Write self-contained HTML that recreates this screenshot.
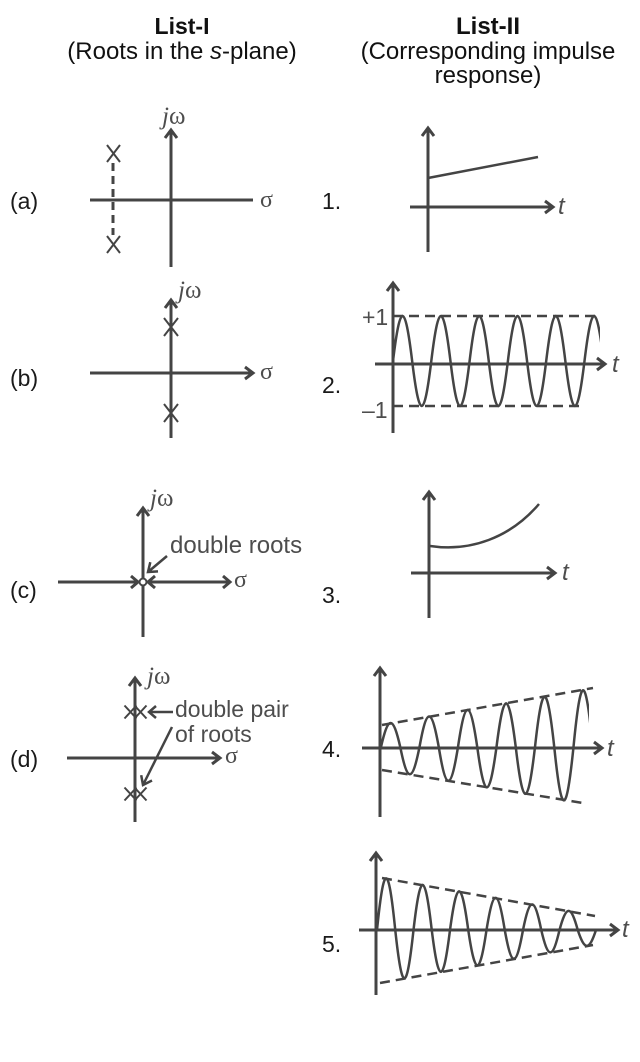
<!DOCTYPE html>
<html>
<head>
<meta charset="utf-8">
<style>
  html, body { margin: 0; padding: 0; background: #ffffff; }
  svg { display: block; }
  text { font-family: "Liberation Sans", Arial, sans-serif; }
  .ax { stroke: #444; stroke-width: 3; fill: none; stroke-linejoin: miter; }
  .ln { stroke: #444; stroke-width: 2.5; fill: none; }
  .xm { stroke: #444; stroke-width: 2; fill: none; }
  .dash { stroke: #444; stroke-width: 2.5; fill: none; stroke-dasharray: 10 6; }
  .lab { font-size: 23px; fill: #1a1a1a; }
  .gr { fill: #4d4d4d; }
  .ser { font-family: "Liberation Serif", "DejaVu Serif", serif; fill: #4d4d4d; }
</style>
</head>
<body>
<svg width="640" height="1062" viewBox="0 0 640 1062" xmlns="http://www.w3.org/2000/svg">
  <defs>
    <clipPath id="c2"><rect x="370" y="280" width="230" height="160"/></clipPath>
    <clipPath id="c4"><rect x="370" y="660" width="219" height="170"/></clipPath>
    <clipPath id="c5"><rect x="370" y="840" width="240" height="160"/></clipPath>
  </defs>

  <!-- Titles -->
  <text x="182" y="34" text-anchor="middle" font-weight="bold" font-size="23" fill="#111">List-I</text>
  <text x="182" y="59" text-anchor="middle" font-size="24" fill="#111">(Roots in the <tspan font-style="italic">s</tspan>-plane)</text>
  <text x="488" y="34" text-anchor="middle" font-weight="bold" font-size="24" fill="#111">List-II</text>
  <text x="488" y="59" text-anchor="middle" font-size="24" fill="#111">(Corresponding impulse</text>
  <text x="488" y="83" text-anchor="middle" font-size="24" fill="#111">response)</text>

  <!-- Row labels -->
  <text class="lab" x="10" y="209">(a)</text>
  <text class="lab" x="10" y="386">(b)</text>
  <text class="lab" x="10" y="598">(c)</text>
  <text class="lab" x="10" y="767">(d)</text>
  <text class="lab" x="322" y="209">1.</text>
  <text class="lab" x="322" y="393">2.</text>
  <text class="lab" x="322" y="603">3.</text>
  <text class="lab" x="322" y="757">4.</text>
  <text class="lab" x="322" y="952">5.</text>

  <!-- (a) -->
  <path class="ax" d="M90,200 H253"/>
  <path class="ax" d="M171,267 V130"/>
  <path class="ax" d="M165,138 L171,130 L177,138"/>
  <path class="ax" d="M113,163 V235" style="stroke-dasharray:8 5"/>
  <path class="xm" d="M107,145 L120,162 M120,145 L107,162"/>
  <path class="xm" d="M107,236 L120,253 M120,236 L107,253"/>
  <text class="ser" x="162" y="124" font-size="25"><tspan font-style="italic">j</tspan>ω</text>
  <text class="ser" x="260" y="207" font-size="24">σ</text>

  <!-- (b) -->
  <path class="ax" d="M90,373 H253"/>
  <path class="ax" d="M245,367 L253,373 L245,379"/>
  <path class="ax" d="M171,438 V300"/>
  <path class="ax" d="M165,308 L171,300 L177,308"/>
  <path class="xm" d="M164,318 L178,336 M178,318 L164,336"/>
  <path class="xm" d="M164,404 L178,422 M178,404 L164,422"/>
  <text class="ser" x="178" y="298" font-size="25"><tspan font-style="italic">j</tspan>ω</text>
  <text class="ser" x="260" y="379" font-size="24">σ</text>

  <!-- (c) -->
  <path class="ax" d="M143,637 V508"/>
  <path class="ax" d="M137,516 L143,508 L149,516"/>
  <path class="ax" d="M58,582 H138"/>
  <path class="ax" d="M131,576 L138,582 L131,588"/>
  <path class="ax" d="M148,582 H230"/>
  <path class="ax" d="M155,576 L148,582 L155,588"/>
  <path class="ax" d="M223,576 L230,582 L223,588"/>
  <circle cx="143" cy="582" r="3.5" fill="#fff" stroke="#444" stroke-width="2"/>
  <path class="ln" d="M167,556 L148,572"/>
  <path class="ln" d="M158,571.4 L148,572 L150.3,562.2"/>
  <text class="gr" x="170" y="553" font-size="24">double roots</text>
  <text class="ser" x="150" y="506" font-size="25"><tspan font-style="italic">j</tspan>ω</text>
  <text class="ser" x="234" y="587" font-size="24">σ</text>

  <!-- (d) -->
  <path class="ax" d="M67,758 H220"/>
  <path class="ax" d="M212,752 L220,758 L212,764"/>
  <path class="ax" d="M135,822 V678"/>
  <path class="ax" d="M129,686 L135,678 L141,686"/>
  <path class="xm" d="M124.5,705.5 L136.5,718.5 M136.5,705.5 L124.5,718.5"/>
  <path class="xm" d="M134.5,705.5 L146.5,718.5 M146.5,705.5 L134.5,718.5"/>
  <path class="xm" d="M124.5,787.5 L136.5,800.5 M136.5,787.5 L124.5,800.5"/>
  <path class="xm" d="M134.5,787.5 L146.5,800.5 M146.5,787.5 L134.5,800.5"/>
  <path class="ln" d="M173,712 H149"/>
  <path class="ln" d="M156,706 L149,712 L156,718"/>
  <path class="ln" d="M172,727 L143,785"/>
  <path class="ln" d="M152,780.5 L143,785 L141.2,775.2"/>
  <text class="gr" x="175" y="717" font-size="23">double pair</text>
  <text class="gr" x="175" y="742" font-size="23">of roots</text>
  <text class="ser" x="147" y="684" font-size="25"><tspan font-style="italic">j</tspan>ω</text>
  <text class="ser" x="225" y="763" font-size="24">σ</text>

  <!-- Plot 1 -->
  <path class="ax" d="M428,252 V128"/>
  <path class="ax" d="M422,136 L428,128 L434,136"/>
  <path class="ax" d="M410,207 H553"/>
  <path class="ax" d="M545,201 L553,207 L545,213"/>
  <path class="ln" d="M428,178 L538,157"/>
  <text class="gr" x="558" y="214" font-size="24" font-style="italic">t</text>

  <!-- Plot 2 -->
  <path class="ax" d="M393,433 V283"/>
  <path class="ax" d="M387,291 L393,283 L399,291"/>
  <path class="ax" d="M375,364 H605"/>
  <path class="ax" d="M597,358 L605,364 L597,370"/>
  <path class="dash" d="M393,316 H597"/>
  <path class="dash" d="M393,406 H580"/>
  <text class="gr" x="362" y="325" font-size="23">+1</text>
  <text class="gr" x="362" y="418" font-size="23">–1</text>
  <path class="ln" clip-path="url(#c2)" d="M393,361
    c7.28,-60 11.87,-60 19.15,0 c7.28,60 11.87,60 19.15,0
    c7.28,-60 11.87,-60 19.15,0 c7.28,60 11.87,60 19.15,0
    c7.28,-60 11.87,-60 19.15,0 c7.28,60 11.87,60 19.15,0
    c7.28,-60 11.87,-60 19.15,0 c7.28,60 11.87,60 19.15,0
    c7.28,-60 11.87,-60 19.15,0 c7.28,60 11.87,60 19.15,0
    c7.28,-60 11.87,-60 19.15,0"/>
  <text class="gr" x="612" y="372" font-size="24" font-style="italic">t</text>

  <!-- Plot 3 -->
  <path class="ax" d="M429,618 V492"/>
  <path class="ax" d="M423,500 L429,492 L435,500"/>
  <path class="ax" d="M411,573 H555"/>
  <path class="ax" d="M547,567 L555,573 L547,579"/>
  <path class="ln" d="M430,546 C470,552 510,538 539,504"/>
  <text class="gr" x="562" y="580" font-size="24" font-style="italic">t</text>

  <!-- Plot 4 -->
  <path class="ax" d="M380,817 V668"/>
  <path class="ax" d="M374,676 L380,668 L386,676"/>
  <path class="ax" d="M362,748 H602"/>
  <path class="ax" d="M594,742 L602,748 L594,754"/>
  <path class="dash" d="M382,725 L593,688"/>
  <path class="dash" d="M382,770 L583,803"/>
  <path class="ln" clip-path="url(#c4)" d="M381,747
    c7.32,-32 11.94,-32 19.25,0 c7.32,36.3 11.94,36.3 19.25,0
    c7.32,-40.7 11.94,-40.7 19.25,0 c7.32,45 11.94,45 19.25,0
    c7.32,-49.4 11.94,-49.4 19.25,0 c7.32,53.8 11.94,53.8 19.25,0
    c7.32,-58.1 11.94,-58.1 19.25,0 c7.32,62.5 11.94,62.5 19.25,0
    c7.32,-66.8 11.94,-66.8 19.25,0 c7.32,71.2 11.94,71.2 19.25,0
    c7.32,-75.6 11.94,-75.6 19.25,0"/>
  <text class="gr" x="607" y="756" font-size="24" font-style="italic">t</text>

  <!-- Plot 5 -->
  <path class="ax" d="M376,995 V853"/>
  <path class="ax" d="M370,861 L376,853 L382,861"/>
  <path class="ax" d="M359,930 H618"/>
  <path class="ax" d="M610,924 L618,930 L610,936"/>
  <path class="dash" d="M382,878 L595,916"/>
  <path class="dash" d="M380,983 L593,945"/>
  <path class="ln" clip-path="url(#c5)" d="M377,930
    c6.94,-68.8 11.31,-68.8 18.25,0 c6.94,64.4 11.31,64.4 18.25,0
    c6.94,-60.1 11.31,-60.1 18.25,0 c6.94,55.8 11.31,55.8 18.25,0
    c6.94,-51.5 11.31,-51.5 18.25,0 c6.94,47.1 11.31,47.1 18.25,0
    c6.94,-42.8 11.31,-42.8 18.25,0 c6.94,38.4 11.31,38.4 18.25,0
    c6.94,-34.1 11.31,-34.1 18.25,0 c6.94,29.8 11.31,29.8 18.25,0
    c6.94,-25.5 11.31,-25.5 18.25,0 c6.94,21.1 11.31,21.1 18.25,0"/>
  <text class="gr" x="622" y="937" font-size="24" font-style="italic">t</text>
</svg>
</body>
</html>
